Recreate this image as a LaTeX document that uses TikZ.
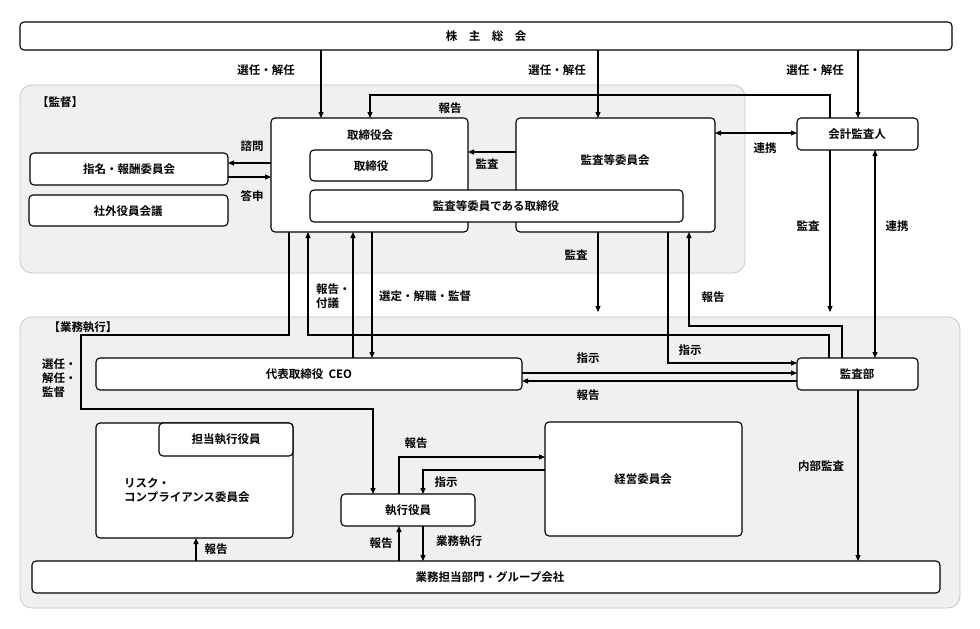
\documentclass[tikz,border=0pt]{standalone}
\usepackage{fontspec}
\setmainfont{Noto Sans CJK JP}[BoldFont={Noto Sans CJK JP Bold}]
\usetikzlibrary{arrows.meta}
\begin{document}
\begin{tikzpicture}[x=1pt,y=-1pt,
  font=\fontsize{11.5}{14}\selectfont\bfseries,
  bx/.style={draw=black,line width=1.1pt,rounded corners=4pt,fill=white},
  bg/.style={draw=gray!45,line width=0.8pt,rounded corners=12pt,fill=gray!12},
  ar/.style={line width=1.1pt,-{Triangle[width=5pt,length=6pt]}},
  dar/.style={line width=1.1pt,{Triangle[width=5pt,length=6pt]}-{Triangle[width=5pt,length=6pt]}},
  lb/.style={inner sep=0pt}]
\useasboundingbox (0,0) rectangle (980,629);
\fill[white] (0,0) rectangle (980,629);
% backgrounds
\draw[bg] (20,85) rectangle (745,273);
\draw[bg] (20,317) rectangle (960,608);
\node[lb] (lsup) at (60,102) {【監督】};
\node[lb] (lexe) at (83,327) {【業務執行】};
% boxes
\draw[bx] (20,22) rectangle (952,50);
\node (kabu) at (486,36) {株\quad 主\quad 総\quad 会};
\coordinate (kabuB) at (486,50);
\draw[bx] (271,118) rectangle (468,232); \node[lb] (tbk) at (370,135) {取締役会};
\draw[bx] (516,118) rectangle (715,232); \node[lb] (kti) at (615,160) {監査等委員会};
\draw[bx] (310,150) rectangle (432,181); \node[lb] (tb) at (371,166) {取締役};
\draw[bx] (310,190) rectangle (683,222); \node[lb] (ktb) at (496,206) {監査等委員である取締役};
\draw[bx] (30,153) rectangle (228,185); \node[lb] (shimei) at (129,169) {指名・報酬委員会};
\draw[bx] (29,195) rectangle (228,226); \node[lb] (shagai) at (128,211) {社外役員会議};
\draw[bx] (797,118) rectangle (918,150); \node[lb] (kaikei) at (857,134) {会計監査人};
\draw[bx] (797,358) rectangle (918,390); \node[lb] (kansa) at (857,374) {監査部};
\draw[bx] (96,358) rectangle (522,390); \node[lb] (ceo) at (309,374) {代表取締役\ \ CEO};
\draw[bx] (96,423) rectangle (293,538);
\draw[bx] (159,423) rectangle (293,456); \node[lb] (tanto) at (226,439) {担当執行役員};
\node[lb,anchor=west,align=left] (risk) at (124,490) {リスク・\\コンプライアンス委員会};
\draw[bx] (341,494) rectangle (475,526); \node[lb] (shikko) at (408,510) {執行役員};
\draw[bx] (545,422) rectangle (742,536); \node[lb] (keiei) at (643,479) {経営委員会};
\draw[bx] (32,561) rectangle (940,593); \node[lb] (gyomu) at (490,577) {業務担当部門・グループ会社};
% shareholders arrows
\draw[ar] (321,50) -- (321,118); \node[lb] (l1) at (266,70) {選任・解任};
\draw[ar] (598,50) -- (598,118); \node[lb] (l2) at (557,70) {選任・解任};
\draw[ar] (858,50) -- (858,118); \node[lb] (l3) at (815,70) {選任・解任};
% report from auditor to board
\draw[ar] (830,118) -- (830,95) -- (370,95) -- (370,118); \node[lb] (l4) at (450,108) {報告};
\draw[ar] (516,152) -- (468,152); \node[lb] (l5) at (487,164) {監査};
\draw[dar] (715,133) -- (797,133); \node[lb] (l6) at (765,148) {連携};
\draw[ar] (271,163) -- (228,163); \node[lb] (l7) at (252,146) {諮問};
\draw[ar] (228,177) -- (271,177); \node[lb] (l8) at (252,196) {答申};
\draw[ar] (598,232) -- (598,312); \node[lb] (l9) at (576,255) {監査};
\draw[ar] (830,150) -- (830,312); \node[lb] (l10) at (808,226) {監査};
\draw[dar] (875,150) -- (875,358); \node[lb] (l11) at (897,226) {連携};
\draw[ar] (842,358) -- (842,326) -- (689,326) -- (689,232); \node[lb] (l12) at (713,297) {報告};
\draw[ar] (668,232) -- (668,363) -- (797,363); \node[lb] (l13) at (690,350) {指示};
\draw[ar] (829,358) -- (829,335) -- (308,335) -- (308,232);
\draw[ar] (522,373) -- (797,373); \node[lb] (l14) at (588,358) {指示};
\draw[ar] (797,381) -- (522,381); \node[lb] (l15) at (588,395) {報告};
\draw[ar] (289,232) -- (289,335) -- (81,335) -- (81,409) -- (373,409) -- (373,494);
\node[lb,align=left,anchor=west] (l16) at (42,378) {選任・\\解任・\\監督};
\draw[ar] (353,358) -- (353,232); \node[lb,align=left,anchor=west] (l17) at (316,296) {報告・\\付議};
\draw[ar] (372,232) -- (372,358); \node[lb] (l18) at (425,296) {選定・解職・監督};
\draw[ar] (399,494) -- (399,457) -- (545,457); \node[lb] (l19) at (416,443) {報告};
\draw[ar] (545,470) -- (423,470) -- (423,494); \node[lb] (l20) at (446,482) {指示};
\draw[ar] (399,561) -- (399,526); \node[lb] (l21) at (381,543) {報告};
\draw[ar] (423,526) -- (423,561); \node[lb] (l22) at (459,541) {業務執行};
\draw[ar] (196,561) -- (196,538); \node[lb] (l23) at (216,549) {報告};
\draw[ar] (858,390) -- (858,561); \node[lb] (l24) at (821,466) {内部監査};
\end{tikzpicture}
\end{document}
